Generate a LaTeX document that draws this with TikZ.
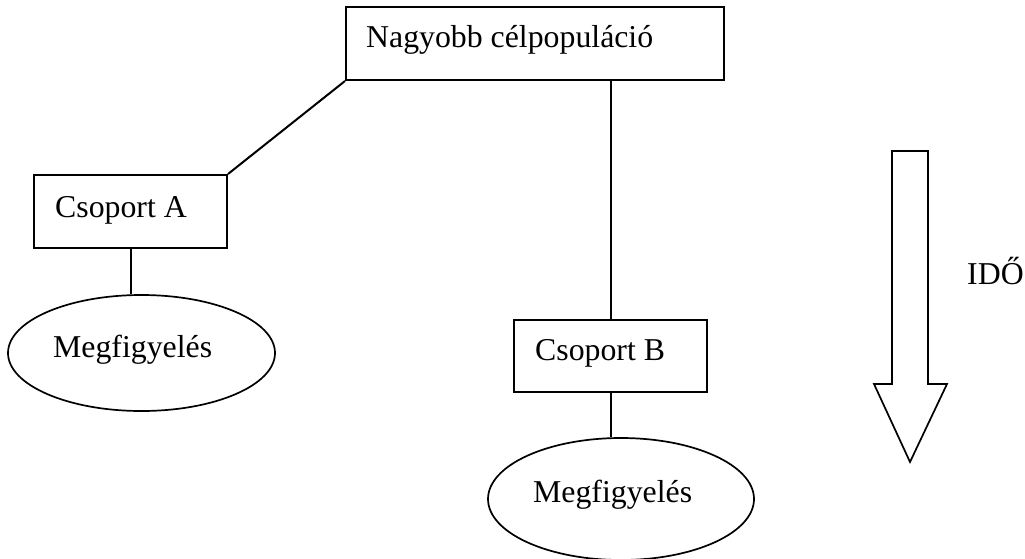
\documentclass[tikz,border=0pt]{standalone}
\usepackage{fontspec}
\setmainfont{Liberation Serif}
\usetikzlibrary{shapes.geometric}
\begin{document}
\begin{tikzpicture}[x=1pt,y=-1pt,
  box/.style={draw, line width=2pt, rectangle, inner sep=0pt, anchor=north west},
  obs/.style={draw, line width=1.7pt, ellipse, inner sep=0pt},
  lbl/.style={anchor=base west, inner sep=0pt, font=\fontsize{31.8}{38}\selectfont},
  conn/.style={line width=2pt}]
\useasboundingbox (0,0) rectangle (1025,558);
% boxes
\node[box, minimum width=378pt, minimum height=73pt] (top) at (345,6) {};
\node[lbl] (toplbl) at (366,47) {Nagyobb célpopuláció};
\node[box, minimum width=193pt, minimum height=73pt] (A) at (33,174) {};
\node[lbl] (Albl) at (55,217) {Csoport A};
\node[box, minimum width=193pt, minimum height=72pt] (B) at (513,319) {};
\node[lbl] (Blbl) at (535,360) {Csoport B};
% ellipses
\node[obs, minimum width=267pt, minimum height=116pt] (eA) at (141.5,353) {};
\node[lbl] (eAlbl) at (53,357) {Megfigyelés};
\node[obs, minimum width=266pt, minimum height=122pt] (eB) at (621,499) {};
\node[lbl] (eBlbl) at (533,502) {Megfigyelés};
% connectors
\draw[conn] (top.south west) -- (A.north east);
\draw[conn] (B.north) -- (B.north |- top.south);
\draw[conn] (A.south) -- (A.south |- eA.north);
\draw[conn] (B.south) -- (B.south |- eB.north);
% time arrow
\draw[line width=1.7pt, line join=miter] (892,151) -- (928,151) -- (928,384) -- (947,384) -- (910,462) -- (874,384) -- (892,384) -- cycle;
\node[lbl] (ido) at (967,284) {IDŐ};
\end{tikzpicture}
\end{document}
